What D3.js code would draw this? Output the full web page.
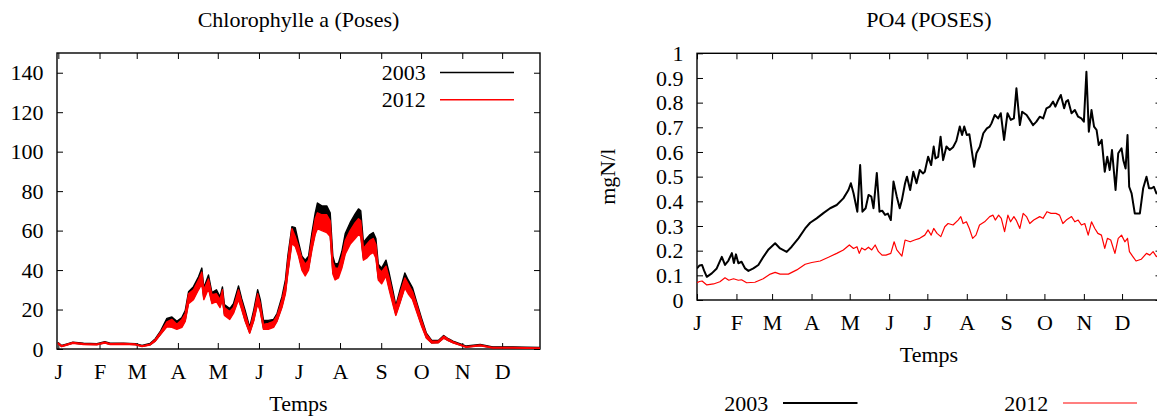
<!DOCTYPE html>
<html>
<head>
<meta charset="utf-8">
<script src="https://cdn.jsdelivr.net/npm/d3@7"></script>
<style>
  html, body { margin: 0; padding: 0; background: #fff; }
  svg text { font-family: "Liberation Serif", "Times New Roman", serif; font-size: 22px; fill: #000; }
</style>
</head>
<body>
<svg id="chart" width="1157" height="418"></svg>
<script>
// month ticks (day of year) and labels
var monthDays = [0, 31, 59, 90, 120, 151, 181, 212, 243, 273, 304, 334];
var monthLabels = ["J", "F", "M", "A", "M", "J", "J", "A", "S", "O", "N", "D"];

// Chlorophylle a : daily band (upper / lower envelope)
var chlDays = [0, 2.5, 6, 11, 19, 29, 35, 39, 49, 58, 63, 69, 73, 77, 81.7, 85.5, 89.2, 93, 95.5, 98,
  101.7, 105.5, 108, 109.5, 113, 115.6, 119, 121.7, 123.5, 125, 129, 131.8, 135.6, 138, 140.6, 144, 147, 150, 152, 154.4,
  158, 162, 164.6, 168.3, 170.9, 172.7, 175.8, 178.3, 180.8, 183.3, 185.8, 188.3, 190.8, 193.3, 195, 198.3, 202, 204.6, 206.6, 208.3,
  210.8, 213.4, 215.9, 219.6, 223.4, 225.9, 227.6, 229.6, 232, 234.6, 237, 239, 240.8, 243.3, 246.6, 249, 252, 254, 257, 260.8,
  263.3, 266.6, 269.6, 273.4, 277, 281, 286, 290, 293.5, 297, 303.7, 307, 317.5, 327, 342, 362.5];
var chl2003Hi = [3.2, 1.8, 2.5, 3.5, 2.9, 2.7, 3.7, 2.9, 3.0, 2.7, 1.8, 2.8, 5.2, 9.2, 15.5, 16.2, 14, 16, 19.5, 29,
  31.6, 36.6, 41, 31, 37.5, 28.6, 30, 26.5, 31.5, 22.5, 20.5, 23, 32, 25.5, 19.5, 11, 19.5, 30, 25, 14.5,
  14.5, 15, 18, 26.5, 35, 47, 62, 61.5, 54, 47, 45, 47, 58.6, 68.8, 74, 72.5, 72.5, 69, 47, 43,
  43.5, 49.5, 58.5, 64, 68.5, 71, 70, 54, 56, 58, 59, 56, 43, 41, 45, 38.5, 29, 22, 29.5, 38.5,
  35, 31, 24, 15.5, 8, 4.3, 4.3, 6.8, 5.2, 4, 2.3, 1.5, 2.3, 1.1, 1.1, 0.8];
var chl2003Lo = [2.7, 1.3, 2.0, 3.0, 2.4, 2.2, 3.1, 2.4, 2.5, 2.2, 1.3, 2.1, 4.1, 7.6, 11.8, 11.6, 10.5, 11.6, 14.6, 23.8,
  25.8, 30.8, 34, 25.8, 31.6, 23.6, 24.8, 21.8, 25.8, 17.6, 15.6, 18.6, 25.8, 20.6, 14.6, 8.4, 14.6, 23.8, 19.6, 10.4,
  10.4, 11.4, 14.4, 21.6, 28.8, 39, 54.5, 53, 48, 41, 38, 41, 51, 59, 62, 61, 60, 58, 39, 36,
  37, 42, 49, 54, 57, 59, 58, 46, 47, 49, 50, 47, 36, 34, 38, 31, 23, 17.6, 23.6, 31.8,
  28.8, 25.6, 19.6, 12, 5.8, 3.1, 3.3, 5.6, 4.3, 3.2, 1.7, 1.0, 1.7, 0.6, 0.6, 0.3];
var chl2012Hi = [3.0, 1.6, 2.3, 3.3, 2.7, 2.5, 3.5, 2.7, 2.8, 2.5, 1.6, 2.5, 4.8, 8.6, 13.8, 15, 12.5, 15, 18, 28,
  30, 35, 39, 30, 35.5, 27.5, 28, 25, 30, 21, 19, 21, 30, 24, 18, 10, 18, 28, 23, 12.5,
  13, 14, 17, 25, 33, 45, 61, 57, 52, 46, 43, 45, 56, 66, 69, 68, 68, 65, 44, 41,
  41, 47, 55, 60, 64, 66, 65, 51, 53, 55, 56, 53, 41, 39, 42, 36, 27, 21, 28, 36,
  33, 29, 23, 14.5, 7.5, 4, 4, 6.5, 5, 3.7, 2, 1.2, 2, 0.8, 0.8, 0.5];
var chl2012Lo = [2.6, 1.2, 1.9, 2.9, 2.3, 2.1, 3.0, 2.3, 2.4, 2.1, 1.2, 2.0, 4.0, 7.4, 11.3, 11, 10, 11, 14, 23,
  25, 30, 33, 25, 30.5, 23, 24, 21, 25, 17, 15, 18, 25, 20, 14, 8, 14, 23, 19, 10,
  10, 11, 14, 21, 28, 38, 53.5, 52, 47, 40, 37, 40, 50, 58, 61, 60, 59, 57, 38, 35,
  36, 41, 48, 53, 56, 58, 57, 45, 46, 48, 49, 46, 35, 33, 37, 30, 22, 17, 23, 31,
  28, 25, 19, 11.5, 5.5, 3, 3.2, 5.5, 4.2, 3.1, 1.6, 0.9, 1.6, 0.5, 0.5, 0.2];

// PO4 (mgN/l)
var po4Days2003 = [0, 2, 4, 5.5, 7.7, 11.6, 15.5, 19.5, 22, 24.7, 27.4, 29, 30.6, 32.5, 35, 37.8, 40.4, 44.3, 48.2, 52.3,
  56.2, 61.4, 65.3, 70.5, 74.4, 79.7, 85, 88.9, 94, 99.3, 104.6, 109.8, 115, 119, 120.9, 123, 126, 128.2, 130, 132.5,
  134.8, 137, 138.7, 141.3, 143.4, 145.5, 147.8, 150, 152.3, 154.4, 157, 159.3, 161, 163.5, 165, 167.5, 170, 172.5, 175, 177.5,
  179, 181.6, 184, 186, 187.4, 189.5, 191.4, 193.4, 196, 198.6, 201.2, 203.8, 206.5, 208.3, 210, 212, 214, 216.2, 217.8, 219.6,
  222.2, 225, 227.8, 230, 231.4, 234, 236.6, 238.7, 241.3, 244, 246.6, 249, 251, 253.7, 255.5, 259, 261.5, 264.1, 266.7, 269.3,
  272, 274.6, 277.2, 279.8, 281.6, 283.9, 285.9, 288.5, 290, 291.6, 294.3, 296.9, 299.5, 302, 304, 306, 307.9, 310, 312, 314,
  315.7, 318, 320.4, 322.4, 324.3, 326.1, 328.9, 331, 333.6, 335, 336.8, 338.3, 339.6, 341.5, 344, 348, 350.6, 353.2, 355.2, 357.3,
  359, 361, 365];
var po4Val2003 = [0.128, 0.14, 0.142, 0.12, 0.094, 0.108, 0.128, 0.175, 0.142, 0.16, 0.19, 0.15, 0.185, 0.149, 0.155, 0.128, 0.118, 0.128, 0.142, 0.176,
  0.205, 0.23, 0.209, 0.195, 0.216, 0.25, 0.29, 0.313, 0.331, 0.352, 0.372, 0.385, 0.412, 0.446, 0.473, 0.433, 0.358, 0.547, 0.358, 0.372,
  0.426, 0.419, 0.372, 0.515, 0.358, 0.362, 0.345, 0.35, 0.324, 0.48, 0.419, 0.372, 0.405, 0.473, 0.5, 0.446, 0.52, 0.473, 0.527, 0.513,
  0.52, 0.581, 0.547, 0.622, 0.574, 0.58, 0.662, 0.567, 0.622, 0.608, 0.619, 0.645, 0.703, 0.669, 0.703, 0.669, 0.672, 0.595, 0.54, 0.595,
  0.621, 0.676, 0.696, 0.703, 0.716, 0.75, 0.736, 0.757, 0.649, 0.757, 0.73, 0.736, 0.858, 0.709, 0.763, 0.75, 0.73, 0.709, 0.723, 0.743,
  0.736, 0.777, 0.784, 0.804, 0.784, 0.811, 0.831, 0.777, 0.804, 0.81, 0.757, 0.77, 0.743, 0.736, 0.723, 0.925, 0.682, 0.77, 0.703, 0.689,
  0.628, 0.649, 0.52, 0.581, 0.527, 0.608, 0.446, 0.595, 0.615, 0.567, 0.533, 0.669, 0.459, 0.432, 0.351, 0.351, 0.453, 0.5, 0.453, 0.453,
  0.459, 0.432, 0.45];
var po4Days2012 = [0, 2, 4, 7.7, 13, 18, 22, 25, 28.7, 32.5, 35, 39, 45.5, 52, 57.6, 61.4, 65.3, 71.8, 78.4, 85,
  90.2, 96.8, 103.3, 109.8, 115, 119.7, 123, 125.7, 127.5, 129.4, 132, 134.7, 137.3, 140, 142.6, 145.4, 148.5, 152.3, 154.9, 157,
  161, 163.5, 167.5, 171, 175, 179, 181.6, 184, 186, 188.6, 191.6, 194.7, 197.3, 201.2, 205.2, 207.3, 209.1, 211.7, 214, 216.6,
  219.2, 222, 226, 230, 232.6, 234.4, 237, 239.1, 241.7, 244.3, 246.4, 249, 250.8, 253.7, 256.3, 258.9, 261.5, 264.6, 269.3, 271.9,
  275, 278.2, 282, 284.9, 287.5, 290.2, 294.3, 296.9, 299.5, 302.1, 304.7, 307.4, 310, 312.6, 315, 317.8, 320.4, 322.5, 325.1, 328.4,
  331, 333.6, 336.2, 338.3, 339.8, 342.5, 345, 349, 353.2, 355.8, 358.4, 361, 365];
var po4Val2012 = [0.07, 0.075, 0.077, 0.061, 0.065, 0.074, 0.09, 0.08, 0.086, 0.08, 0.082, 0.07, 0.072, 0.086, 0.105, 0.112, 0.105, 0.105, 0.122, 0.145,
  0.152, 0.158, 0.173, 0.189, 0.203, 0.223, 0.209, 0.216, 0.189, 0.211, 0.203, 0.214, 0.203, 0.223, 0.196, 0.182, 0.182, 0.189, 0.236, 0.203,
  0.178, 0.243, 0.236, 0.243, 0.25, 0.263, 0.284, 0.263, 0.29, 0.27, 0.257, 0.297, 0.31, 0.304, 0.324, 0.338, 0.31, 0.317, 0.29, 0.25,
  0.263, 0.304, 0.317, 0.338, 0.344, 0.324, 0.344, 0.331, 0.277, 0.344, 0.317, 0.338, 0.324, 0.29, 0.351, 0.338, 0.31, 0.324, 0.338, 0.331,
  0.358, 0.351, 0.351, 0.344, 0.31, 0.324, 0.338, 0.317, 0.324, 0.304, 0.31, 0.263, 0.317, 0.29, 0.27, 0.263, 0.209, 0.25, 0.243, 0.189,
  0.25, 0.263, 0.236, 0.25, 0.196, 0.176, 0.158, 0.165, 0.189, 0.182, 0.196, 0.176, 0.19];

var chlTicks = [0, 20, 40, 60, 80, 100, 120, 140];
var po4Ticks = [0, 0.1, 0.2, 0.3, 0.4, 0.5, 0.6, 0.7, 0.8, 0.9, 1];
var seriesNames = ["2003", "2012"];
var seriesColors = ["#000000", "#ff0000"];

var svg = d3.select("#chart");
svg.append("rect").attr("width", 1157).attr("height", 418).attr("fill", "#fff");

var drawFrame = function(g, x, y, yTicks, yFormat, id) {
  var x0 = x.range()[0], x1 = x.range()[1], y0 = y.range()[0], y1 = y.range()[1];
  var clip = svg.append("clipPath").attr("id", id).append("rect")
    .attr("x", x0).attr("y", y1).attr("width", x1 - x0).attr("height", y0 - y1);

  g.append("g").attr("transform", "translate(0," + y0 + ")")
    .call(d3.axisBottom(x).tickValues(monthDays).tickSizeInner(-6).tickSizeOuter(0).tickPadding(14.4)
      .tickFormat(function(d, i) { return monthLabels[i]; }));
  g.append("g").attr("transform", "translate(0," + y1 + ")")
    .call(d3.axisTop(x).tickValues(monthDays).tickSizeInner(-6).tickSizeOuter(0).tickFormat(""));
  g.append("g").attr("transform", "translate(" + x0 + ",0)")
    .call(d3.axisLeft(y).tickValues(yTicks).tickSizeInner(-6).tickSizeOuter(0).tickPadding(13.5).tickFormat(yFormat));
  g.append("g").attr("transform", "translate(" + x1 + ",0)")
    .call(d3.axisRight(y).tickValues(yTicks).tickSizeInner(-6).tickSizeOuter(0).tickFormat(""));

  g.selectAll(".domain").remove();
  g.selectAll(".tick line").attr("stroke", "#000").attr("stroke-width", 1);
  g.selectAll(".tick text").attr("font-size", null).attr("font-family", null);
  g.selectAll("g").attr("font-size", null).attr("font-family", null);

  g.append("rect").attr("x", x0).attr("y", y1).attr("width", x1 - x0).attr("height", y0 - y1)
    .attr("fill", "none").attr("stroke", "#000").attr("stroke-width", 1.4);
  return "url(#" + id + ")";
};

// ---------- left: Chlorophylle a ----------
var xL = d3.scaleLinear().domain([-1, 362.5]).range([57, 540]);
var yL = d3.scaleLinear().domain([0, 150]).range([349, 53]);
var gL = svg.append("g");
var clipL = drawFrame(gL, xL, yL, chlTicks, d3.format("d"), "clipL");

var bands = [[chl2003Lo, chl2003Hi], [chl2012Lo, chl2012Hi]];
var plotL = gL.append("g").attr("clip-path", clipL);
bands.forEach(function(b, k) {
  var area = d3.area()
    .x(function(d, i) { return xL(chlDays[i]); })
    .y0(function(d, i) { return yL(b[0][i]); })
    .y1(function(d, i) { return yL(b[1][i]); });
  plotL.append("path").datum(chlDays).attr("d", area)
    .attr("fill", seriesColors[k]).attr("stroke", seriesColors[k]).attr("stroke-width", 1.4)
    .attr("stroke-linejoin", "round");
});

gL.append("text").attr("x", 298.5).attr("y", 27).attr("text-anchor", "middle").text("Chlorophylle a (Poses)");
gL.append("text").attr("x", 298.5).attr("y", 411).attr("text-anchor", "middle").text("Temps");

seriesNames.forEach(function(name, k) {
  var ly = 72.5 + k * 27.2;
  gL.append("text").attr("x", 425.7).attr("y", ly + 7.5).attr("text-anchor", "end").text(name);
  gL.append("line").attr("x1", 440).attr("x2", 514).attr("y1", ly).attr("y2", ly)
    .attr("stroke", seriesColors[k]).attr("stroke-width", k ? 1.6 : 1.3);
});

// ---------- right: PO4 ----------
var xR = d3.scaleLinear().domain([0, 365]).range([697, 1161.5]);
var yR = d3.scaleLinear().domain([0, 1]).range([300, 53.3]);
var gR = svg.append("g");
var clipR = drawFrame(gR, xR, yR, po4Ticks, function(d) { return d3.format("~g")(d); }, "clipR");

var po4Series = [[po4Days2003, po4Val2003], [po4Days2012, po4Val2012]];
var plotR = gR.append("g").attr("clip-path", clipR);
po4Series.forEach(function(s, k) {
  var line = d3.line()
    .x(function(d, i) { return xR(s[0][i]); })
    .y(function(d, i) { return yR(s[1][i]); });
  plotR.append("path").datum(s[1]).attr("d", line)
    .attr("fill", "none").attr("stroke", seriesColors[k]).attr("stroke-width", k ? 1.2 : 2)
    .attr("stroke-linejoin", "round");
});

gR.append("text").attr("x", 929).attr("y", 27.3).attr("text-anchor", "middle").text("PO4 (POSES)");
gR.append("text").attr("x", 929).attr("y", 362).attr("text-anchor", "middle").text("Temps");
gR.append("text").attr("transform", "translate(615,176.7) rotate(-90)").attr("text-anchor", "middle").text("mgN/l");

var legendX = [[768.3, 783, 857.5], [1048.3, 1063, 1137]];
seriesNames.forEach(function(name, k) {
  gR.append("text").attr("x", legendX[k][0]).attr("y", 410.5).attr("text-anchor", "end").text(name);
  gR.append("line").attr("x1", legendX[k][1]).attr("x2", legendX[k][2]).attr("y1", 403).attr("y2", 403)
    .attr("stroke", seriesColors[k]).attr("stroke-width", k ? 1.2 : 2);
});
</script>
</body>
</html>
